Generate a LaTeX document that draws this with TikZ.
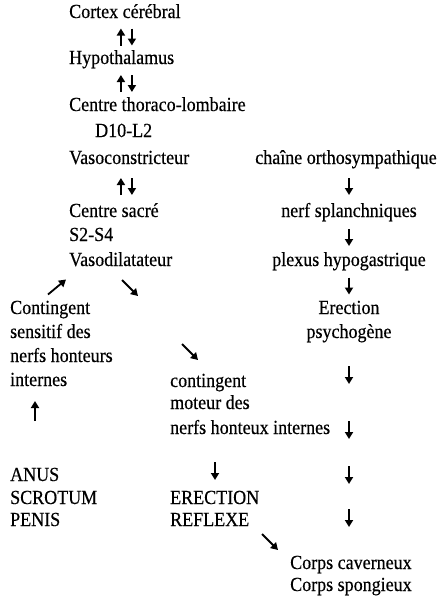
\documentclass[tikz,border=0pt]{standalone}
\usepackage{fontspec}
\setmainfont[FakeStretch=0.9,FakeBold=0.4]{Liberation Serif}
\usetikzlibrary{arrows.meta,calc}

\tikzset{
  txt/.style={anchor=west,inner sep=0pt,text height=13pt,text depth=5pt},
  ctr/.style={txt,anchor=center},
  fleche/.style={line width=1.8pt,-{Triangle[length=7pt,width=8pt]}}
}
% short arrow centred between two points
\newcommand{\fleche}[3][8.5pt]{\draw[fleche] ($(#2)!.5!(#3)!#1!(#2)$) -- ($(#2)!.5!(#3)!#1!(#3)$);}

\begin{document}
\begin{tikzpicture}[x=1pt,y=-1pt,font=\fontsize{20}{24}\selectfont]

\useasboundingbox (0,0) rectangle (440,597);

% centres
\node[txt] (cortex) at (69,14) {Cortex cérébral};
\node[txt] (hypo) at (69,60) {Hypothalamus};
\node[txt] (thoraco) at (69,107) {Centre thoraco-lombaire};
\node[txt] (dl) at (95,133) {D10-L2};
\node[txt] (vasoc) at (69,160) {Vasoconstricteur};
\node[txt] (sacre) at (69,213) {Centre sacré};
\node[txt] (ss) at (69,237) {S2-S4};
\node[txt] (vasod) at (69,262) {Vasodilatateur};

% voie sensitive
\node[txt] (sens1) at (10,310) {Contingent};
\node[txt] (sens2) at (10,334) {sensitif des};
\node[txt] (sens3) at (10,358) {nerfs honteurs};
\node[txt] (sens4) at (10,382) {internes};
\node[txt] (anus) at (10,477) {ANUS};
\node[txt] (scrotum) at (10,500) {SCROTUM};
\node[txt] (penis) at (10,522) {PENIS};

% voie motrice
\node[txt] (mot1) at (170,383) {contingent};
\node[txt] (mot2) at (170,405) {moteur des};
\node[txt] (mot3) at (170,430) {nerfs honteux internes};
\node[txt] (erec) at (170,500) {ERECTION};
\node[txt] (reflexe) at (170,522) {REFLEXE};
\node[txt] (corps1) at (290,565) {Corps caverneux};
\node[txt] (corps2) at (290,587) {Corps spongieux};

% voie orthosympathique
\node[ctr] (chaine) at (346,160) {chaîne orthosympathique};
\node[ctr] (splanch) at (349,213) {nerf splanchniques};
\node[ctr] (plexus) at (349,262) {plexus hypogastrique};
\node[ctr] (psy1) at (349,310) {Erection};
\node[ctr] (psy2) at (349,334) {psychogène};

% fleches doubles
\fleche{[xshift=-4pt]cortex.south |- hypo.north}{[xshift=-4pt]cortex.south}
\fleche{[xshift=7pt]cortex.south}{[xshift=7pt]cortex.south |- hypo.north}
\fleche{[xshift=-4pt]cortex.south |- thoraco.north}{[xshift=-4pt]cortex.south |- hypo.south}
\fleche{[xshift=7pt]cortex.south |- hypo.south}{[xshift=7pt]cortex.south |- thoraco.north}
\fleche{[xshift=-4pt]cortex.south |- sacre.north}{[xshift=-4pt]cortex.south |- vasoc.south}
\fleche{[xshift=7pt]cortex.south |- vasoc.south}{[xshift=7pt]cortex.south |- sacre.north}

\fleche{splanch |- chaine.south}{splanch.north}
\fleche{splanch.south}{plexus.north}
\fleche{plexus.south}{psy1.north}

% fleches isolees
\coordinate (m1) at (57,287);
\coordinate (m2) at (130,288);
\coordinate (m3) at (190,352);
\coordinate (m4) at (35,411);
\coordinate (m5) at (215,471);
\coordinate (m6) at (270,542);
\draw[fleche] ([shift={(-9pt,-7.5pt)}]m1) -- ([shift={(9pt,7.5pt)}]m1);
\draw[fleche] ([shift={(-8pt,8pt)}]m2) -- ([shift={(8pt,-8pt)}]m2);
\draw[fleche] ([shift={(-8pt,8pt)}]m3) -- ([shift={(8pt,-8pt)}]m3);
\draw[fleche] ([yshift=-10pt]m4) -- ([yshift=10pt]m4);
\draw[fleche] ([yshift=9pt]m5) -- ([yshift=-9pt]m5);
\draw[fleche] ([shift={(-8pt,8pt)}]m6) -- ([shift={(8pt,-8pt)}]m6);

\foreach \y [count=\i] in {375,430,475,518} {
  \coordinate (bas\i) at (349,\y);
  \draw[fleche] ([yshift=9pt]bas\i) -- ([yshift=-9pt]bas\i);
}

\end{tikzpicture}
\end{document}
